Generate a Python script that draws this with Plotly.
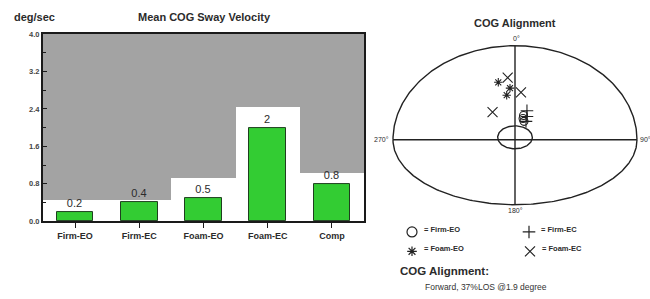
import numpy as np
import plotly.graph_objects as go

W, H = 650, 299

# ---------------- data ----------------
categories = ["Firm-EO", "Firm-EC", "Foam-EO", "Foam-EC", "Comp"]
sway_velocity = [0.2, 0.4, 0.5, 2.0, 0.8]
norm_limits = [0.46, 0.46, 0.93, 2.45, 1.02]
y_ticks = [0.0, 0.8, 1.6, 2.4, 3.2, 4.0]

# COG alignment points (lateral, anterior-posterior; % of LOS-like units)
firm_eo_x = [7.0, 6.6, 7.4]
firm_eo_y = [25.8, 22.7, 19.6]
firm_ec_x = [9.8, 9.8, 9.0]
firm_ec_y = [30.9, 24.7, 19.6]
foam_eo_x = [-13.7, -6.8, -4.1]
foam_eo_y = [61.1, 47.4, 54.9]
foam_ec_x = [-6.0, 4.9, -18.4]
foam_ec_y = [66.0, 50.5, 29.4]
alignment_text = "Forward, 37%LOS @1.9 degree"

FONT = "Arial, Liberation Sans, sans-serif"
DARK = "#2b2b2b"

fig = go.Figure()

# --------- left chart: bars ----------
fig.add_trace(go.Bar(
    x=categories, y=[4.0 - v for v in norm_limits], base=norm_limits,
    width=1.0, marker=dict(color="#a3a3a3", line=dict(width=0)),
    hoverinfo="skip", showlegend=False, xaxis="x", yaxis="y"))
fig.add_trace(go.Bar(
    x=categories, y=sway_velocity, width=0.57,
    marker=dict(color="#33cc33", line=dict(color="#1f3f1f", width=1)),
    text=[f"{v:g}" for v in sway_velocity], textposition="outside",
    textfont=dict(size=11, color=DARK, family=FONT),
    cliponaxis=False, showlegend=False, xaxis="x", yaxis="y"))

# --------- right chart: COG alignment ----------
t = np.linspace(0, np.pi, 200)
outline_color = "#222222"
fig.add_trace(go.Scatter(x=100 * np.cos(t), y=100 * np.sin(t), mode="lines",
                         line=dict(color=outline_color, width=1.4),
                         hoverinfo="skip", showlegend=False, xaxis="x2", yaxis="y2"))
fig.add_trace(go.Scatter(x=100 * np.cos(t), y=-69 * np.sin(t), mode="lines",
                         line=dict(color=outline_color, width=1.4),
                         hoverinfo="skip", showlegend=False, xaxis="x2", yaxis="y2"))
fig.add_trace(go.Scatter(x=[-100, 100, None, 0, 0], y=[0, 0, None, 100, -69], mode="lines",
                         line=dict(color=outline_color, width=1.4),
                         hoverinfo="skip", showlegend=False, xaxis="x2", yaxis="y2"))
t2 = np.linspace(0, 2 * np.pi, 120)
fig.add_trace(go.Scatter(x=14.2 * np.cos(t2), y=2.6 + 12.2 * np.sin(t2), mode="lines",
                         line=dict(color=outline_color, width=1.4),
                         hoverinfo="skip", showlegend=False, xaxis="x2", yaxis="y2"))

series = [
    ("Firm-EO", firm_eo_x, firm_eo_y, "circle-open", 8),
    ("Firm-EC", firm_ec_x, firm_ec_y, "cross-thin-open", 9),
    ("Foam-EO", foam_eo_x, foam_eo_y, "asterisk-open", 7),
    ("Foam-EC", foam_ec_x, foam_ec_y, "x-thin-open", 10),
]
for name, xs, ys, sym, sz in series:
    fig.add_trace(go.Scatter(x=xs, y=ys, mode="markers", name=name,
                             marker=dict(symbol=sym, size=sz, color="#222",
                                         line=dict(color="#222", width=1.1)),
                             showlegend=False, xaxis="x2", yaxis="y2"))

# --------- custom legend (pixel overlay axis x3/y3) ----------
leg_pos = [(412, 235), (529, 235), (412, 255), (530, 255)]
leg_sizes = [10, 9, 8, 10]
for (name, xs, ys, sym, sz), (lx, ly), ls in zip(series, leg_pos, leg_sizes):
    fig.add_trace(go.Scatter(x=[lx], y=[ly], mode="markers",
                             marker=dict(symbol=sym, size=ls, color="#222",
                                         line=dict(color="#222", width=1.2)),
                             hoverinfo="skip", showlegend=False, xaxis="x3", yaxis="y3"))

annotations = []
for (name, *_), (lx, ly) in zip(series, leg_pos):
    annotations.append(dict(x=lx + 10, y=ly - 3, xref="x3", yref="y3", text="= " + name,
                            showarrow=False, xanchor="left", yanchor="middle",
                            font=dict(size=7.5, color=DARK, family=FONT, weight="bold")))


def txt(x, y, s, size, anchor="center", bold=False, color=DARK):
    annotations.append(dict(x=x, y=y, xref="x3", yref="y3", text=s, showarrow=False,
                            xanchor=anchor, yanchor="middle",
                            font=dict(size=size, color=color, family=FONT,
                                      weight="bold" if bold else "normal")))


txt(12, 13, "deg/sec", 11, "left", True)
txt(204, 13, "Mean COG Sway Velocity", 11, "center", True)
txt(515, 20, "COG Alignment", 11, "center", True)
txt(516, 36, "0°", 7)
txt(391, 140, "270°", 7, "right")
txt(638, 140, "90°", 7, "left")
txt(515, 213, "180°", 7)
txt(398, 275, "COG Alignment:", 11.5, "left", True)
txt(423, 292, alignment_text, 8.5, "left", False, "#333")

fig.update_layout(
    width=W, height=H, margin=dict(l=0, r=0, t=0, b=0),
    paper_bgcolor="white", plot_bgcolor="rgba(0,0,0,0)",
    barmode="overlay", bargap=0, showlegend=False,
    annotations=annotations,
    xaxis=dict(domain=[43 / W, 364 / W], range=[-0.5, 4.5], type="category",
               showline=True, linecolor="#1a1a1a", linewidth=2, mirror=True,
               ticks="outside", ticklen=5, tickcolor="#1a1a1a", showgrid=False,
               tickfont=dict(size=9, color=DARK, family=FONT, weight="bold"),
               anchor="y", fixedrange=True),
    yaxis=dict(domain=[1 - 224 / H, 1 - 31 / H], range=[0, 4.0],
               tickvals=y_ticks, ticktext=[f"{v:.1f}" for v in y_ticks],
               ticks="inside", ticklen=4, tickcolor="#1a1a1a",
               minor=dict(dtick=0.4, ticks="inside", ticklen=3, tickcolor="#1a1a1a"),
               showline=True, linecolor="#1a1a1a", linewidth=2, mirror=True,
               showgrid=False, zeroline=False,
               tickfont=dict(size=7.5, color="#444", family=FONT, weight="bold"),
               anchor="x", fixedrange=True),
    xaxis2=dict(domain=[385 / W, 645 / W], range=[-106.56, 106.56], visible=False,
                anchor="y2", fixedrange=True),
    yaxis2=dict(domain=[1 - 215 / H, 1 - 30 / H], range=[-77.3, 113.4], visible=False,
                anchor="x2", fixedrange=True),
    xaxis3=dict(domain=[0, 1], range=[0, W], visible=False, anchor="y3", fixedrange=True),
    yaxis3=dict(domain=[0, 1], range=[H, 0], visible=False, anchor="x3", fixedrange=True),
)

fig.write_html("out.html", config={"displayModeBar": False},
               post_script="document.body.style.margin='0px';document.body.style.padding='0px';")
